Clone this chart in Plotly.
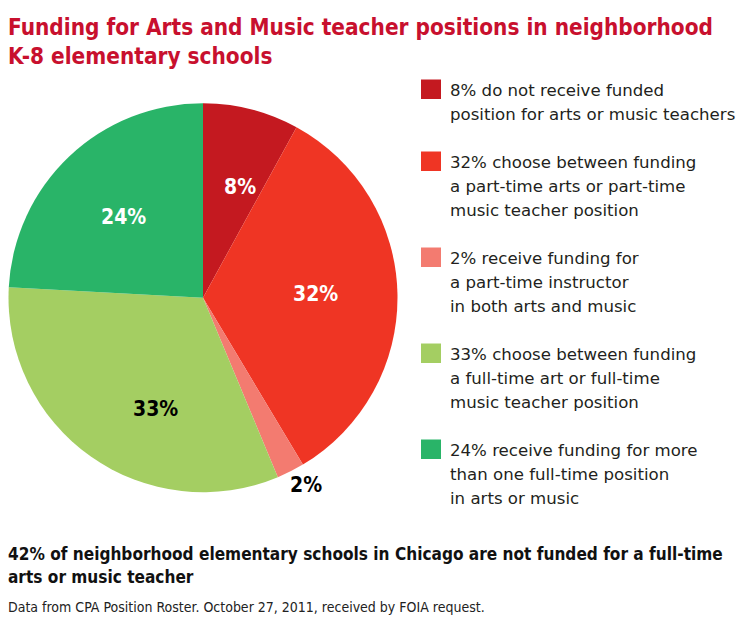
import math
import plotly.graph_objects as go

# ---- data ----
categories = [
    "Do not receive funded position",
    "Part-time arts or part-time music",
    "Part-time instructor in both",
    "Full-time art or full-time music",
    "More than one full-time position",
]
slice_values = [8.0, 33.5, 2.3, 32.2, 24.2]   # angular share
pct_labels = ["8%", "32%", "2%", "33%", "24%"]
slice_colors = ["#C41920", "#EF3524", "#F37B70", "#A4CE62", "#29B468"]

legend_lines = [
    ["8% do not receive funded", "position for arts or music teachers"],
    ["32% choose between funding", "a part-time arts or part-time", "music teacher position"],
    ["2% receive funding for", "a part-time instructor", "in both arts and music"],
    ["33% choose between funding", "a full-time art or full-time", "music teacher position"],
    ["24% receive funding for more", "than one full-time position", "in arts or music"],
]
title_lines = ["Funding for Arts and Music teacher positions in neighborhood",
               "K-8 elementary schools"]
footer_lines = ["42% of neighborhood elementary schools in Chicago are not funded for a full-time",
                "arts or music teacher"]
source_text = "Data from CPA Position Roster. October 27, 2011, received by FOIA request."

# ---- styling of the slice labels (placement relative to slice middle) ----
label_colors = ["white", "white", "black", "black", "white"]
label_radius = [0.60, 0.58, 1.10, 0.62, 0.58]
label_angle_nudge = [4, -1, -2, -12, -1]

W, H = 750, 624

def px(x):
    return x / W

def py(y):
    return 1 - y / H

fig = go.Figure()

cx, cy, R = 203, 297.7, 194.5
fig.add_trace(go.Pie(
    labels=categories,
    values=slice_values,
    text=pct_labels,
    textinfo="none",
    marker=dict(colors=slice_colors, line=dict(width=0)),
    sort=False,
    direction="clockwise",
    rotation=0,
    showlegend=False,
    hoverinfo="label+text",
    domain=dict(x=[px(cx - R), px(cx + R)], y=[py(cy + R), py(cy - R)]),
))

annotations = []
shapes = []

# slice labels, placed from the slice mid-angles computed from the values
total = sum(slice_values)
cum = 0.0
for i, v in enumerate(slice_values):
    mid = (cum + v / 2) / total * 360 + label_angle_nudge[i]
    cum += v
    rr = label_radius[i] * R
    lx = cx + rr * math.sin(math.radians(mid))
    ly = cy - rr * math.cos(math.radians(mid))
    annotations.append(dict(
        x=px(lx), y=py(ly), xref="paper", yref="paper",
        xanchor="center", yanchor="middle", showarrow=False,
        text=f"<b>{pct_labels[i]}</b>",
        font=dict(family="DejaVu Sans Condensed", size=21, color=label_colors[i]),
    ))

def text_line(x, baseline, s, size, family, color, bold=False):
    t = f"<b>{s}</b>" if bold else s
    annotations.append(dict(
        x=px(x), y=py(baseline - 0.35 * size), xref="paper", yref="paper",
        xanchor="left", yanchor="middle", showarrow=False, text=t,
        font=dict(family=family, size=size, color=color),
    ))

# title
for i, line in enumerate(title_lines):
    text_line(6, 34.5 + i * 29, line, 22.4, "DejaVu Sans Condensed", "#C8102E", bold=True)

# legend
top = 79.5
for gi, lines in enumerate(legend_lines):
    shapes.append(dict(type="rect", xref="paper", yref="paper",
                       x0=px(421), x1=px(441), y0=py(top + 19.5), y1=py(top),
                       fillcolor=slice_colors[gi], line=dict(width=0)))
    for li, line in enumerate(lines):
        text_line(448, top + 17 + li * 24, line, 16.6, "DejaVu Sans", "#231F20")
    top += (len(lines) + 1) * 24

# footer
for i, line in enumerate(footer_lines):
    text_line(6, 560 + i * 23, line, 17.1, "DejaVu Sans Condensed", "#111111", bold=True)
text_line(6, 611.5, source_text, 14, "DejaVu Sans Condensed", "#222222")

fig.update_layout(
    width=W, height=H,
    margin=dict(l=0, r=0, t=0, b=0),
    paper_bgcolor="white",
    plot_bgcolor="white",
    annotations=annotations,
    shapes=shapes,
)

fig.write_html("out.html",
               config={"displayModeBar": False},
               post_script="document.body.style.margin='0';document.body.style.overflow='hidden';")
